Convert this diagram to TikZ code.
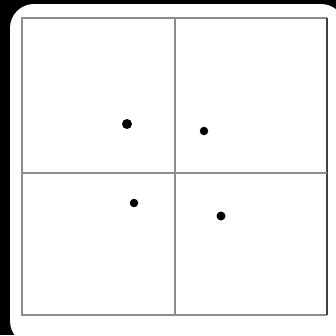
\documentclass[tikz,border=0pt]{standalone}
\begin{document}
\begin{tikzpicture}[x=1pt,y=-1pt,
  gridline/.style={draw=black!45,line width=1.6pt},
  edgeline/.style={draw=black!75,line width=2pt},
  dot/.style={circle,fill=black,inner sep=0pt,minimum size=#1}]
\fill[black] (0,0) rectangle (336,335);
\useasboundingbox (0,0) rectangle (336,335);
\fill[white,rounded corners=24pt] (10,4) rectangle (345,345);
\coordinate (tl) at (22,18);
\coordinate (tr) at (327,18);
\coordinate (bl) at (22,315);
\coordinate (br) at (327,315);
\coordinate (mt) at (175,18);
\coordinate (mb) at (175,315);
\coordinate (ml) at (22,173);
\coordinate (mr) at (327,173);
\draw[gridline] (br) -- (bl) -- (tl) -- (tr);
\draw[edgeline] (tr) -- (br);
\draw[gridline] (mt) -- (mb);
\draw[gridline] (ml) -- (mr);
\node[dot=10pt] (d1) at (127,124) {};
\node[dot=8.5pt] (d2) at (204,131) {};
\node[dot=8.5pt] (d3) at (134,203) {};
\node[dot=9pt] (d4) at (221,216) {};
\end{tikzpicture}
\end{document}
